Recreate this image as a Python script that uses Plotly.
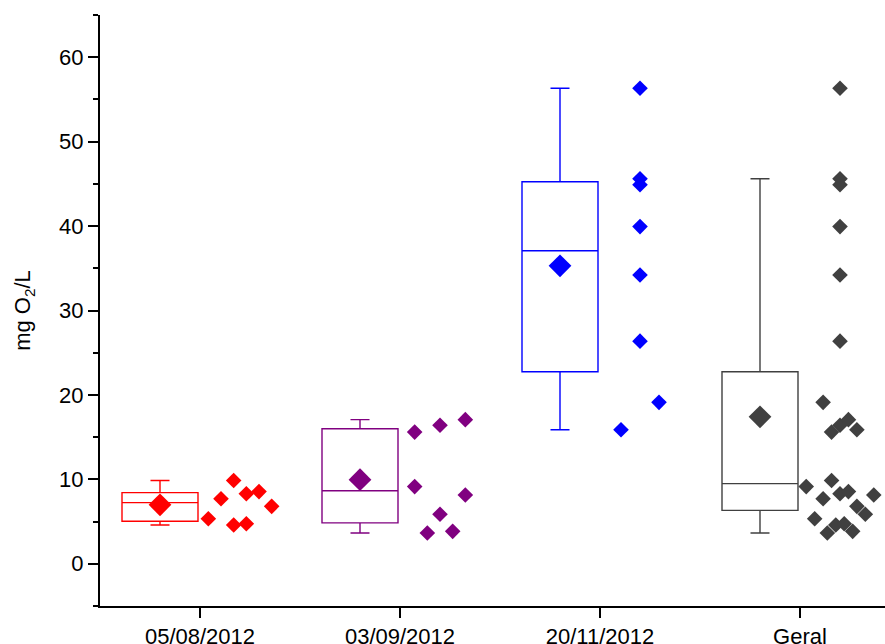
import numpy as np
import plotly.graph_objects as go

# Dissolved-oxygen demand (mg O2/L) per sampling campaign
categories = ["05/08/2012", "03/09/2012", "20/11/2012", "Geral"]

campaign_0508 = [5.34, 7.70, 9.86, 8.30, 8.55, 6.80, 4.60, 4.75]
campaign_0309 = [15.60, 9.14, 3.65, 16.40, 5.86, 3.84, 17.07, 8.15]
campaign_2011 = [56.33, 45.60, 44.90, 39.94, 34.20, 26.37, 15.88, 19.12]
# pooled column (all campaigns)
geral = [3.65, 9.14, 19.12, 5.34, 7.70, 4.60, 15.60, 9.86, 8.30, 4.75,
         16.40, 8.55, 6.80, 17.07, 5.86, 3.84, 8.15, 15.88,
         26.37, 34.20, 39.94, 44.90, 45.60, 56.33]

series = [campaign_0508, campaign_0309, campaign_2011, geral]
colors = ["#FF0000", "#800080", "#0000FF", "#404040"]

y_ticks = [0, 10, 20, 30, 40, 50, 60]

BOX_WIDTH = 0.38
BOX_SHIFT = -0.2
PTS_SHIFT = 0.2
BIN = 5.0
FONT = "Arial, Liberation Sans, sans-serif"


def binned_swarm(values, center, span):
    """Histogram-style point layout: values sharing a bin are spread side by side."""
    vals = np.asarray(values, dtype=float)
    bins = np.floor(vals / BIN).astype(int)
    uniq, counts = np.unique(bins, return_counts=True)
    step = span / counts.max()
    xs = np.empty(len(vals))
    for b in uniq:
        idx = np.where(bins == b)[0]
        k = len(idx)
        for j, i in enumerate(idx):
            xs[i] = center + (j - (k - 1) / 2.0) * step
    return xs


fig = go.Figure()

for i, (vals, col) in enumerate(zip(series, colors)):
    pos = i + 1
    # box with 1.5*IQR whiskers; outliers are shown in the point column instead
    fig.add_trace(go.Box(
        y=vals,
        x0=pos + BOX_SHIFT,
        width=BOX_WIDTH,
        quartilemethod="exclusive",
        boxpoints="outliers",
        marker=dict(opacity=0, size=1, color=col),
        whiskerwidth=0.25,
        line=dict(color=col, width=1.4),
        fillcolor="rgba(0,0,0,0)",
        showlegend=False,
    ))
    fig.add_trace(go.Scatter(
        x=[pos + BOX_SHIFT],
        y=[float(np.mean(vals))],
        mode="markers",
        marker=dict(symbol="diamond", size=17.5, color=col),
        showlegend=False,
    ))
    fig.add_trace(go.Scatter(
        x=binned_swarm(vals, pos + PTS_SHIFT, BOX_WIDTH),
        y=vals,
        mode="markers",
        marker=dict(symbol="diamond", size=12, color=col),
        showlegend=False,
    ))

fig.update_layout(
    width=885,
    height=644,
    margin=dict(l=100, r=0, t=15, b=38),
    paper_bgcolor="white",
    plot_bgcolor="white",
    font=dict(family=FONT, size=22, color="black"),
    showlegend=False,
)

fig.update_xaxes(
    range=[0.5, 4.425],
    tickvals=[1, 2, 3, 4],
    ticktext=categories,
    showgrid=False,
    zeroline=False,
    showline=True,
    linecolor="black",
    linewidth=2,
    ticks="outside",
    ticklen=10,
    tickwidth=2,
    tickcolor="black",
    tickfont=dict(size=22),
    automargin=False,
)

fig.update_yaxes(
    range=[-5, 65],
    tickvals=y_ticks,
    showgrid=False,
    zeroline=False,
    showline=True,
    linecolor="black",
    linewidth=2,
    ticks="outside",
    ticklen=10,
    tickwidth=2,
    tickcolor="black",
    tickfont=dict(size=22),
    minor=dict(dtick=5, tick0=0, ticks="outside", ticklen=5, tickwidth=2,
               tickcolor="black", showgrid=False),
    title=dict(text="mg O<sub>2</sub>/L", font=dict(size=22), standoff=22),
    automargin=False,
)

fig.write_html("out.html")
